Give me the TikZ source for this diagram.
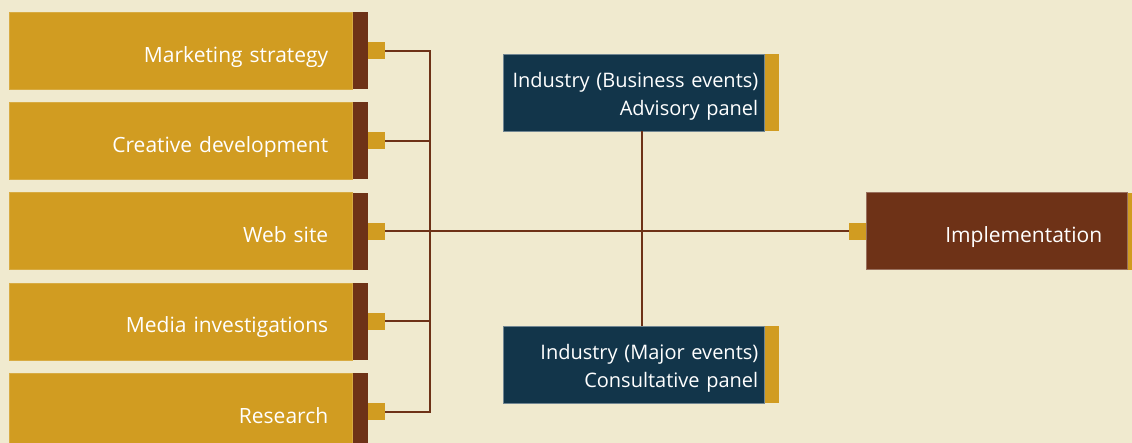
\documentclass[tikz,border=0pt]{standalone}
\usepackage{fontspec}
\setmainfont{Open Sans}
\usetikzlibrary{positioning}

\definecolor{cream}{HTML}{F0EACF}
\definecolor{gold}{HTML}{D19C21}
\definecolor{rust}{HTML}{6E3217}
\definecolor{navy}{HTML}{12354A}

\begin{document}
\begin{tikzpicture}[x=1pt,y=-1pt,
  txt/.style={font=\fontsize{21}{28}\selectfont,text=white},
  task/.style={txt,fill=gold,draw=gold!85!white,line width=0.5pt,minimum height=77pt,
    text width=295pt,inner xsep=24pt,inner ysep=0pt,align=right,anchor=north west,
    text height=23pt,text depth=0pt},
  panel/.style={txt,font=\fontsize{20}{28}\selectfont,fill=navy,draw=navy!60!white,
    line width=0.5pt,minimum height=77pt,text width=249pt,inner xsep=6pt,inner ysep=0pt,
    align=right,anchor=north west,text height=20pt,text depth=31pt},
  stripe/.style={minimum width=15pt,minimum height=77pt,inner sep=0pt,anchor=west},
  tab/.style={fill=gold,minimum size=17pt,inner sep=0pt},
  wire/.style={draw=rust,line width=2pt}]

% --- canvas ------------------------------------------------------------
\fill[cream] (0,0) rectangle (1132,443);
\useasboundingbox (0,0) rectangle (1132,443);
\clip (0,0) rectangle (1132,443);

% --- task column -------------------------------------------------------
\foreach \name/\txt [count=\i from 0] in {strategy/Marketing strategy,
    creative/Creative development,website/Web site,
    media/Media investigations,research/Research} {
  \node[task] (\name) at (9,12+90.25*\i) {\txt};
  \node[stripe,fill=rust] (\name-s) at (\name.east) {};
  \node[tab,anchor=west] (\name-t) at (\name-s.east) {};
}

% --- panels ------------------------------------------------------------
\node[panel] (advisory) at (503,54) {Industry (Business events)\\Advisory panel};
\node[stripe,fill=gold,minimum width=14pt] (advisory-s) at (advisory.east) {};
\node[panel] (consult) at (503,326) {Industry (Major events)\\Consultative panel};
\node[stripe,fill=gold,minimum width=14pt] (consult-s) at (consult.east) {};

% --- implementation ----------------------------------------------------
\node[task,fill=rust,draw=rust!70!white,text width=211pt,inner xsep=25pt]
  (impl) at (866,192.5) {Implementation};
\node[stripe,fill=gold,minimum width=10pt] (impl-s) at (impl.east) {};
\node[tab,anchor=east] (impl-t) at (impl.west) {};

% --- connectors --------------------------------------------------------
\coordinate (bus) at (430,0);
\coordinate (link) at (642,0);
\draw[wire] (strategy-t.east) -| (bus |- research-t.east) -- (research-t.east);
\foreach \name in {creative,media}
  \draw[wire] (\name-t.east) -- (\name-t.east -| bus);
\draw[wire] (website-t.east) -- (impl-t.west);
\draw[wire] (advisory.south -| link) -- (consult.north -| link);
\end{tikzpicture}
\end{document}
